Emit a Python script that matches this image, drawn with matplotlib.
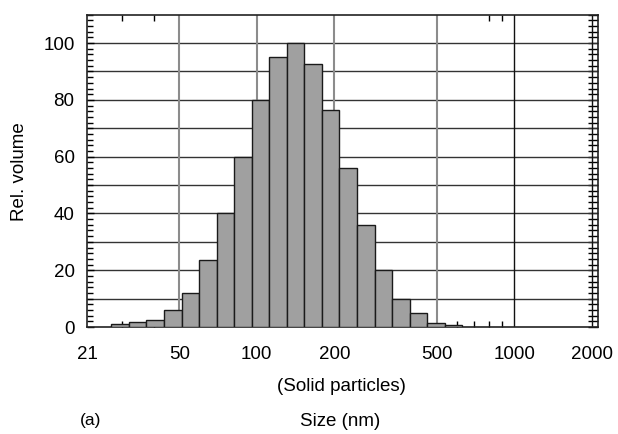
import matplotlib
matplotlib.use('Agg')
import matplotlib.pyplot as plt
from matplotlib.ticker import FixedLocator, NullFormatter

# Bordes de las clases de tamaño (nm) y volumen relativo de cada clase
bordes = [27.2, 31.8, 37.2, 43.6, 51.0, 59.7, 69.8, 81.7, 95.6, 111.8, 130.8,
          153.1, 179.1, 209.5, 245.2, 286.8, 335.6, 392.6, 459.4, 537.5, 628.8]
volumen = [0.9, 1.9, 2.5, 5.9, 12.0, 23.5, 40.0, 60.0, 80.0, 95.0, 100.0,
           92.5, 76.5, 56.0, 36.0, 20.0, 9.8, 4.8, 1.5, 0.8]

ticks_x = [50, 100, 200, 500, 1000, 2000]
etiquetas_x = ['50', '100', '200', '500', '1000', '2000']
ticks_y = [0, 20, 40, 60, 80, 100]

plt.rcParams['font.family'] = ['Liberation Sans', 'DejaVu Sans']

fig = plt.figure(figsize=(6.18, 4.34), dpi=100)
ax = fig.add_axes([0.1408, 0.2465, 0.8268, 0.7196])

anchos = [bordes[i + 1] - bordes[i] for i in range(len(volumen))]
ax.bar(bordes[:-1], volumen, width=anchos, align='edge', color='#a0a0a0',
       edgecolor='#1a1a1a', linewidth=1.0, zorder=3)

ax.set_xscale('log')
ax.set_xlim(21.9, 2116)
ax.set_ylim(0, 110)

# Rejilla horizontal cada 10 y verticales en los valores principales
for yv in range(10, 101, 10):
    ax.axhline(yv, color='#333333', linewidth=1.0, zorder=1)
for xv in [50, 100, 200, 500]:
    ax.axvline(xv, color='#8c8c8c', linewidth=1.5, zorder=1)
for xv in [1000, 2000]:
    ax.axvline(xv, color='#111111', linewidth=1.0, zorder=1)

ax.xaxis.set_major_locator(FixedLocator([21.9] + ticks_x))
ax.set_xticklabels(['21'] + etiquetas_x)
ax.xaxis.set_minor_locator(FixedLocator([30, 40, 600, 700, 800, 900]))
ax.xaxis.set_minor_formatter(NullFormatter())
ax.set_yticks(ticks_y)
ax.yaxis.set_minor_locator(FixedLocator(list(range(0, 111, 2))))

ax.tick_params(axis='x', which='major', length=0, pad=14, labelsize=13.5)
ax.tick_params(axis='x', which='minor', direction='in', length=4, width=1,
               top=False, bottom=True)
ax.tick_params(axis='y', which='major', direction='in', length=5, width=1,
               pad=9, labelsize=13.5)
ax.tick_params(axis='y', which='minor', direction='in', length=4, width=1)

# Marcas del borde superior y escalera del borde derecho
arriba = ax.secondary_xaxis('top')
arriba.set_xticks([30, 40, 800, 900])
arriba.xaxis.set_minor_locator(FixedLocator([]))
arriba.tick_params(direction='in', length=4, width=1, labeltop=False)
arriba.spines['top'].set_visible(False)

derecha = ax.secondary_yaxis('right')
derecha.set_yticks(list(range(0, 111, 2)))
derecha.tick_params(direction='in', length=7, width=1, labelright=False)
derecha.spines['right'].set_visible(False)

for s in ax.spines.values():
    s.set_linewidth(1.2)
    s.set_color('#222222')

fig.text(0.032, 0.605, 'Rel. volume', rotation=90, ha='center', va='center',
         fontsize=13.5)
fig.text(0.553, 0.110, '(Solid particles)', ha='center', va='center',
         fontsize=13.5)
fig.text(0.550, 0.028, 'Size (nm)', ha='center', va='center', fontsize=13.5)
fig.text(0.147, 0.032, '(a)', ha='center', va='center', fontsize=12.5)

fig.savefig('out.png', dpi=100)
